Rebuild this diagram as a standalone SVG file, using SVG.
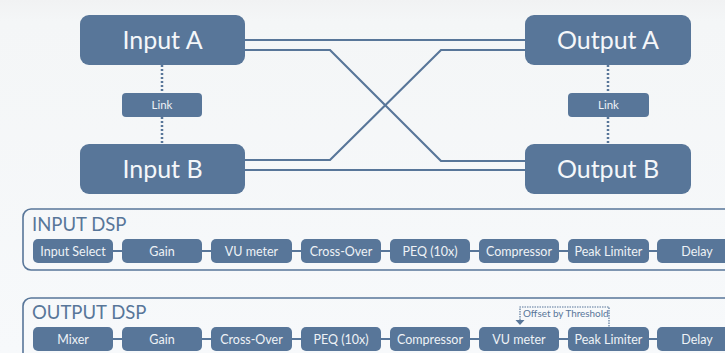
<svg xmlns="http://www.w3.org/2000/svg" width="725" height="353" viewBox="0 0 725 353">
<defs>
<linearGradient id="bg" x1="0" y1="0" x2="0" y2="1">
<stop offset="0" stop-color="#f1f2f3"/>
<stop offset="0.06" stop-color="#f4f6f7"/>
<stop offset="1" stop-color="#f7f9fb"/>
</linearGradient>
<style>
.big{fill:#587699}
.bigt{font-family:Lato,"Open Sans",sans-serif;font-size:25px;fill:#f4f7fa;text-anchor:middle}
.link{fill:#587699}
.linkt{font-family:Lato,"Open Sans",sans-serif;font-size:11.5px;fill:#eef2f6;text-anchor:middle}
.step{fill:#587699}
.stept{font-family:Lato,"Open Sans",sans-serif;font-size:12.5px;fill:#eef2f6;text-anchor:middle}
.wire{stroke:#587699;stroke-width:2.2;fill:none}
.dot{stroke:#587699;stroke-width:2.5;stroke-dasharray:2 2;fill:none}
.frame{stroke:#587699;stroke-width:1.6;fill:none}
.title{font-family:Lato,"Open Sans",sans-serif;font-size:18.5px;fill:#587699}
.note{font-family:Lato,"Open Sans",sans-serif;font-size:9.9px;fill:#587699}
.ndot{stroke:#587699;stroke-width:1.2;stroke-dasharray:1.5 1;fill:none}
.arrow{fill:#587699}
</style>
</defs>
<rect x="0" y="0" width="725" height="353" fill="url(#bg)"/>

<g id="connectors">
<polyline class="wire" points="245,40 525,40"/>
<polyline class="wire" points="245,170 525,170"/>
<polyline class="wire" points="245,50 330,50 441,161 525,161"/>
<polyline class="wire" points="245,160 330,160 441,50 525,50"/>
<line class="dot" x1="162" y1="65" x2="162" y2="93"/>
<line class="dot" x1="162" y1="117" x2="162" y2="144"/>
<line class="dot" x1="608" y1="65" x2="608" y2="93"/>
<line class="dot" x1="608" y1="117" x2="608" y2="144"/>
<line class="wire" x1="113" y1="251" x2="700" y2="251"/>
<line class="wire" x1="113" y1="339" x2="700" y2="339"/>
<polyline class="ndot" points="520,320 520,307 609,307 609,327"/>
<polygon class="arrow" points="515.5,320 524.5,320 520,325"/>
</g>

<g id="input-a"><rect class="big" x="80" y="15" width="165" height="50" rx="9"/><text class="bigt" x="162.5" y="48.5">Input A</text></g>
<g id="input-b"><rect class="big" x="80" y="144" width="165" height="50" rx="9"/><text class="bigt" x="162.5" y="177.5">Input B</text></g>
<g id="output-a"><rect class="big" x="525" y="15" width="166" height="50" rx="9"/><text class="bigt" x="608" y="48.5">Output A</text></g>
<g id="output-b"><rect class="big" x="525" y="144" width="166" height="50" rx="9"/><text class="bigt" x="608" y="177.5">Output B</text></g>
<g id="link-in"><rect class="link" x="122" y="93" width="80" height="24" rx="4"/><text class="linkt" x="162" y="109">Link</text></g>
<g id="link-out"><rect class="link" x="568" y="93" width="81" height="24" rx="4"/><text class="linkt" x="608.5" y="109">Link</text></g>

<g id="input-dsp">
<rect class="frame" x="23" y="209" width="740" height="61" rx="8"/>
<text class="title" x="32" y="231">INPUT DSP</text>
</g>
<g id="in-1"><rect class="step" x="33" y="239" width="80" height="24" rx="5"/><text class="stept" x="73" y="255.5">Input Select</text></g>
<g id="in-2"><rect class="step" x="122" y="239" width="80" height="24" rx="5"/><text class="stept" x="162" y="255.5">Gain</text></g>
<g id="in-3"><rect class="step" x="211" y="239" width="81" height="24" rx="5"/><text class="stept" x="251.5" y="255.5">VU meter</text></g>
<g id="in-4"><rect class="step" x="301" y="239" width="80" height="24" rx="5"/><text class="stept" x="341" y="255.5">Cross-Over</text></g>
<g id="in-5"><rect class="step" x="390" y="239" width="80" height="24" rx="5"/><text class="stept" x="430" y="255.5">PEQ (10x)</text></g>
<g id="in-6"><rect class="step" x="479" y="239" width="80" height="24" rx="5"/><text class="stept" x="519" y="255.5">Compressor</text></g>
<g id="in-7"><rect class="step" x="568" y="239" width="81" height="24" rx="5"/><text class="stept" x="608.5" y="255.5">Peak Limiter</text></g>
<g id="in-8"><rect class="step" x="657" y="239" width="80" height="24" rx="5"/><text class="stept" x="697" y="255.5">Delay</text></g>

<g id="output-dsp">
<rect class="frame" x="23" y="298" width="740" height="70" rx="8"/>
<text class="title" x="32" y="319">OUTPUT DSP</text>
</g>
<g id="out-1"><rect class="step" x="33" y="327" width="80" height="24" rx="5"/><text class="stept" x="73" y="343.5">Mixer</text></g>
<g id="out-2"><rect class="step" x="122" y="327" width="80" height="24" rx="5"/><text class="stept" x="162" y="343.5">Gain</text></g>
<g id="out-3"><rect class="step" x="211" y="327" width="81" height="24" rx="5"/><text class="stept" x="251.5" y="343.5">Cross-Over</text></g>
<g id="out-4"><rect class="step" x="301" y="327" width="80" height="24" rx="5"/><text class="stept" x="341" y="343.5">PEQ (10x)</text></g>
<g id="out-5"><rect class="step" x="390" y="327" width="80" height="24" rx="5"/><text class="stept" x="430" y="343.5">Compressor</text></g>
<g id="out-6"><rect class="step" x="479" y="327" width="80" height="24" rx="5"/><text class="stept" x="519" y="343.5">VU meter</text></g>
<g id="out-7"><rect class="step" x="568" y="327" width="81" height="24" rx="5"/><text class="stept" x="608.5" y="343.5">Peak Limiter</text></g>
<g id="out-8"><rect class="step" x="657" y="327" width="80" height="24" rx="5"/><text class="stept" x="697" y="343.5">Delay</text></g>
<g id="note"><text class="note" x="523" y="316.5">Offset by Threshold</text></g>
</svg>
